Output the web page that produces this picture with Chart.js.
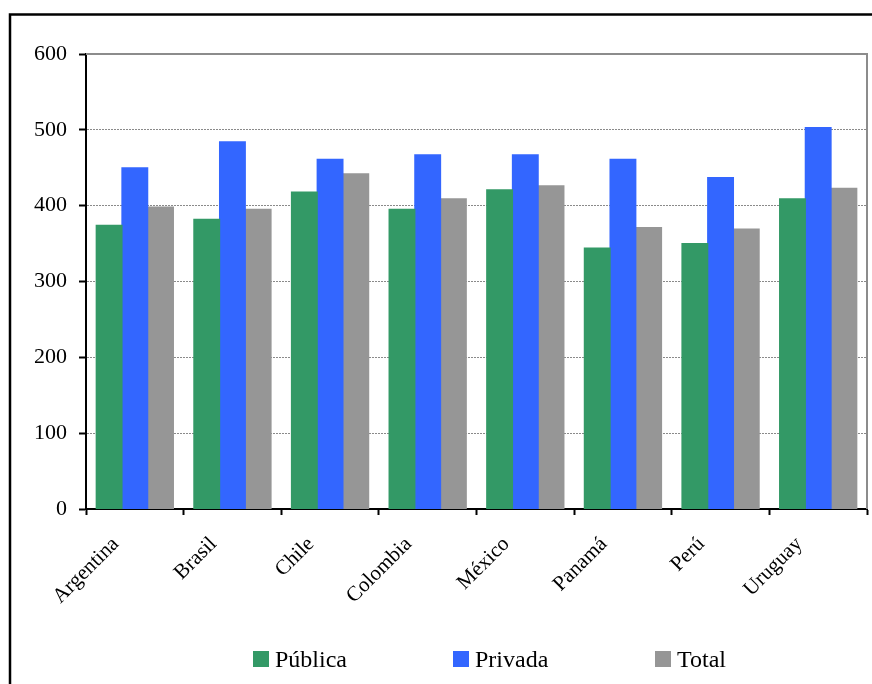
<!DOCTYPE html>
<html>
<head>
<meta charset="utf-8">
<script src="https://cdn.jsdelivr.net/npm/chart.js@4/dist/chart.umd.min.js"></script>
<style>
  html, body { margin: 0; padding: 0; background: #ffffff; }
  #wrap { position: relative; width: 872px; height: 684px; }
</style>
</head>
<body>
<div id="wrap"><canvas id="c" width="872" height="684"></canvas></div>
<script>
// Países y puntajes por tipo de escuela
const paises = ['Argentina', 'Brasil', 'Chile', 'Colombia', 'México', 'Panamá', 'Perú', 'Uruguay'];
const publica = [374, 382, 418, 395, 421, 344, 350, 409];
const privada = [450, 484, 461, 467, 467, 461, 437, 503];
const total = [398, 395, 442, 409, 426, 371, 369, 423];
const yTicks = [0, 100, 200, 300, 400, 500, 600];

const series = [
  { label: 'Pública', data: publica, color: '#339966' },
  { label: 'Privada', data: privada, color: '#3366FF' },
  { label: 'Total', data: total, color: '#969696' }
];

const FONT = "'Liberation Serif', 'Times New Roman', serif";

// Outer frame, plot border and the legend row
const decor = {
  id: 'decor',
  beforeDraw(chart) {
    const ctx = chart.ctx;
    ctx.save();
    ctx.fillStyle = '#ffffff';
    ctx.fillRect(0, 0, chart.width, chart.height);
    ctx.strokeStyle = '#000000';
    ctx.lineWidth = 2.5;
    ctx.beginPath();
    ctx.moveTo(10, chart.height + 5);
    ctx.lineTo(10, 14.5);
    ctx.lineTo(chart.width + 5, 14.5);
    ctx.stroke();
    ctx.restore();
  },
  afterDraw(chart) {
    const ctx = chart.ctx;
    const a = chart.chartArea;
    ctx.save();
    ctx.strokeStyle = '#8c8c8c';
    ctx.lineWidth = 2;
    ctx.beginPath();
    ctx.moveTo(a.left, a.top);
    ctx.lineTo(a.right, a.top);
    ctx.lineTo(a.right, a.bottom);
    ctx.stroke();

    const starts = [253, 453, 655];
    ctx.font = '24px ' + FONT;
    ctx.textBaseline = 'alphabetic';
    ctx.textAlign = 'left';
    series.forEach((s, i) => {
      ctx.fillStyle = s.color;
      ctx.fillRect(starts[i], 651, 16, 16);
      ctx.fillStyle = '#000000';
      ctx.fillText(s.label, starts[i] + 22, 667);
    });
    ctx.restore();
  }
};

new Chart(document.getElementById('c'), {
  type: 'bar',
  data: {
    labels: paises,
    datasets: series.map(s => ({
      label: s.label,
      data: s.data,
      backgroundColor: s.color,
      borderWidth: 0,
      inflateAmount: 0.6,
      categoryPercentage: 0.79,
      barPercentage: 1.0
    }))
  },
  options: {
    responsive: false,
    animation: false,
    devicePixelRatio: 1,
    layout: { padding: { left: 0, top: 54, right: 5, bottom: 0 } },
    plugins: {
      legend: { display: false },
      tooltip: { enabled: false }
    },
    scales: {
      x: {
        offset: true,
        grid: {
          display: true,
          offset: true,
          drawOnChartArea: false,
          drawTicks: true,
          tickLength: 6,
          tickColor: '#000000',
          tickWidth: 2
        },
        border: { display: true, color: '#000000', width: 2 },
        ticks: {
          color: '#000000',
          font: { family: FONT, size: 21 },
          minRotation: 45,
          maxRotation: 45,
          padding: 17,
          labelOffset: -19,
          autoSkip: false
        },
        afterFit(scale) { scale.height = 175; }
      },
      y: {
        min: 0,
        max: 600,
        afterBuildTicks(scale) { scale.ticks = yTicks.map(v => ({ value: v })); },
        grid: {
          color: '#8a8a8a',
          lineWidth: 1,
          drawTicks: true,
          tickLength: 7,
          tickColor: '#000000',
          tickWidth: 2,
          tickBorderDash: []
        },
        border: { display: true, color: '#000000', width: 2, dash: [2, 1] },
        ticks: {
          color: '#000000',
          font: { family: FONT, size: 22 },
          padding: 12
        },
        afterFit(scale) { scale.width = 86; }
      }
    }
  },
  plugins: [decor]
});
</script>
</body>
</html>
